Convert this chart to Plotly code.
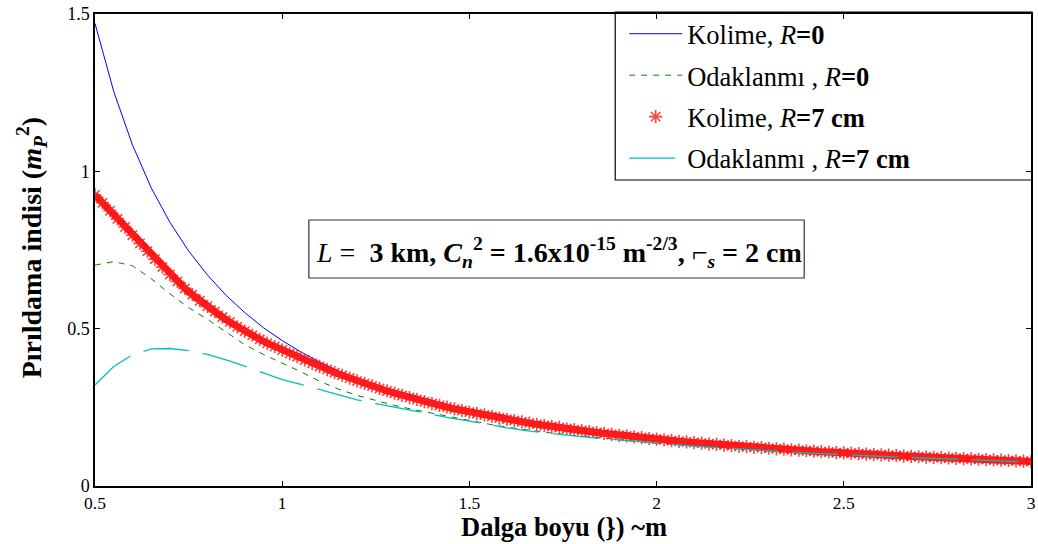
import plotly.graph_objects as go

# Scintillation index vs wavelength for collimated and focused beams
x_line = [0.50, 0.55, 0.60, 0.65, 0.70, 0.75, 0.80, 0.85, 0.90, 0.95,
          1.00, 1.05, 1.10, 1.15, 1.20, 1.25, 1.30, 1.35, 1.40, 1.45,
          1.50, 1.55, 1.60, 1.65, 1.70, 1.75, 1.80, 1.85, 1.90, 1.95,
          2.00, 2.05, 2.10, 2.15, 2.20, 2.25, 2.30, 2.35, 2.40, 2.45,
          2.50, 2.55, 2.60, 2.65, 2.70, 2.75, 2.80, 2.85, 2.90, 2.95, 3.00]

kolime_r0 = [1.470, 1.254, 1.084, 0.948, 0.838, 0.747, 0.671, 0.606, 0.551, 0.503,
             0.462, 0.426, 0.394, 0.366, 0.341, 0.318, 0.298, 0.280, 0.263, 0.248,
             0.235, 0.222, 0.211, 0.200, 0.190, 0.181, 0.173, 0.165, 0.158, 0.151,
             0.146, 0.140, 0.135, 0.130, 0.125, 0.121, 0.117, 0.113, 0.109, 0.106,
             0.102, 0.099, 0.096, 0.093, 0.091, 0.088, 0.086, 0.083, 0.081, 0.079, 0.077]

odak_r0 = [0.702, 0.713, 0.700, 0.659, 0.611, 0.567, 0.530, 0.489, 0.449, 0.418,
           0.391, 0.363, 0.333, 0.308, 0.288, 0.271, 0.256, 0.243, 0.231, 0.219,
           0.208, 0.197, 0.187, 0.178, 0.171, 0.164, 0.158, 0.152, 0.147, 0.141,
           0.136, 0.132, 0.128, 0.124, 0.120, 0.116, 0.113, 0.110, 0.106, 0.103,
           0.100, 0.098, 0.095, 0.093, 0.090, 0.088, 0.086, 0.083, 0.081, 0.079, 0.077]

odak_r7 = [0.321, 0.380, 0.417, 0.436, 0.437, 0.430, 0.418, 0.401, 0.381, 0.359,
           0.338, 0.323, 0.307, 0.289, 0.274, 0.262, 0.250, 0.238, 0.227, 0.216,
           0.206, 0.195, 0.185, 0.176, 0.169, 0.163, 0.157, 0.151, 0.146, 0.140,
           0.136, 0.131, 0.127, 0.123, 0.119, 0.116, 0.112, 0.109, 0.105, 0.102,
           0.099, 0.097, 0.094, 0.092, 0.089, 0.087, 0.085, 0.082, 0.080, 0.078, 0.076]

x_mark = [0.50, 0.52, 0.54, 0.56, 0.58, 0.60, 0.62, 0.64, 0.66, 0.68,
          0.70, 0.72, 0.74, 0.76, 0.78, 0.80, 0.82, 0.84, 0.86, 0.88,
          0.90, 0.92, 0.94, 0.96, 0.98, 1.00, 1.02, 1.04, 1.06, 1.08,
          1.10, 1.12, 1.14, 1.16, 1.18, 1.20, 1.22, 1.24, 1.26, 1.28,
          1.30, 1.32, 1.34, 1.36, 1.38, 1.40, 1.42, 1.44, 1.46, 1.48,
          1.50, 1.52, 1.54, 1.56, 1.58, 1.60, 1.62, 1.64, 1.66, 1.68,
          1.70, 1.72, 1.74, 1.76, 1.78, 1.80, 1.82, 1.84, 1.86, 1.88,
          1.90, 1.92, 1.94, 1.96, 1.98, 2.00, 2.02, 2.04, 2.06, 2.08,
          2.10, 2.12, 2.14, 2.16, 2.18, 2.20, 2.22, 2.24, 2.26, 2.28,
          2.30, 2.32, 2.34, 2.36, 2.38, 2.40, 2.42, 2.44, 2.46, 2.48,
          2.50, 2.52, 2.54, 2.56, 2.58, 2.60, 2.62, 2.64, 2.66, 2.68,
          2.70, 2.72, 2.74, 2.76, 2.78, 2.80, 2.82, 2.84, 2.86, 2.88,
          2.90, 2.92, 2.94, 2.96, 2.98, 3.00]

kolime_r7 = [0.925, 0.900, 0.875, 0.849, 0.823, 0.797, 0.771, 0.746, 0.721, 0.696,
             0.672, 0.650, 0.628, 0.608, 0.589, 0.571, 0.554, 0.537, 0.521, 0.506,
             0.492, 0.479, 0.466, 0.454, 0.443, 0.432, 0.421, 0.411, 0.400, 0.390,
             0.380, 0.370, 0.361, 0.352, 0.343, 0.334, 0.326, 0.318, 0.310, 0.302,
             0.295, 0.288, 0.281, 0.275, 0.268, 0.262, 0.256, 0.251, 0.245, 0.240,
             0.235, 0.230, 0.226, 0.221, 0.216, 0.212, 0.208, 0.204, 0.200, 0.196,
             0.192, 0.189, 0.186, 0.182, 0.179, 0.176, 0.173, 0.170, 0.167, 0.164,
             0.161, 0.159, 0.156, 0.154, 0.151, 0.149, 0.147, 0.144, 0.142, 0.140,
             0.138, 0.136, 0.134, 0.132, 0.130, 0.128, 0.126, 0.125, 0.123, 0.122,
             0.120, 0.118, 0.117, 0.115, 0.114, 0.112, 0.111, 0.109, 0.108, 0.106,
             0.105, 0.104, 0.103, 0.101, 0.100, 0.099, 0.098, 0.097, 0.095, 0.094,
             0.093, 0.092, 0.091, 0.090, 0.089, 0.088, 0.087, 0.086, 0.085, 0.084,
             0.083, 0.082, 0.081, 0.080, 0.079, 0.078]

x_ticks = [0.5, 1, 1.5, 2, 2.5, 3]
x_tick_text = ["0.5", "1", "1.5", "2", "2.5", "3"]
y_ticks = [0, 0.5, 1, 1.5]
y_tick_text = ["0", "0.5", "1", "1.5"]

names = [
    "Kolime, <i>R</i><b>=0</b>",
    "Odaklanmı , <i>R</i><b>=0</b>",
    "Kolime, <i>R</i><b>=7 cm</b>",
    "Odaklanmı , <i>R</i><b>=7 cm</b>",
]

SERIF = "Liberation Serif, Times New Roman, serif"

fig = go.Figure()
fig.add_trace(go.Scatter(x=x_line, y=kolime_r0, mode="lines", name=names[0],
                         legendgroup="a", line=dict(color="#0000FF", width=1)))
fig.add_trace(go.Scatter(x=x_line, y=odak_r0, mode="lines", name=names[1],
                         legendgroup="b",
                         line=dict(color="#008000", width=1, dash="6px,6px")))
# dense star markers form a solid band; a thick underlay fills the gaps
fig.add_trace(go.Scatter(x=x_mark, y=kolime_r7, mode="lines", showlegend=False,
                         legendgroup="c", hoverinfo="skip",
                         line=dict(color="#FF1010", width=7)))
fig.add_trace(go.Scatter(x=x_mark, y=kolime_r7, mode="markers", name=names[2],
                         legendgroup="c",
                         marker=dict(symbol="asterisk", size=11, color="#FF0000",
                                     line=dict(color="rgba(255,30,30,0.85)", width=1.6))))
fig.add_trace(go.Scatter(x=x_line, y=odak_r7, mode="lines", name=names[3],
                         legendgroup="d",
                         line=dict(color="#00BFBF", width=1.3, dash="46px,14px")))

L, T = 95, 14
W, H = 941, 472


def px_x(p):
    return (p - L) / W


def px_y(p):
    return (T + H - p) / H


fig.update_layout(
    width=1038, height=544,
    margin=dict(l=L, r=1038 - L - W, t=T, b=544 - T - H, pad=0),
    paper_bgcolor="white", plot_bgcolor="white",
    font=dict(family=SERIF, size=18, color="black"),
    showlegend=True,
    legend=dict(x=px_x(627), y=px_y(10), xanchor="left", yanchor="top",
                bgcolor="rgba(0,0,0,0)", borderwidth=0,
                font=dict(family=SERIF, size=26.5, color="black"),
                tracegroupgap=4, itemwidth=53),
    xaxis=dict(range=[0.5, 3], tickvals=x_ticks, ticktext=x_tick_text,
               showgrid=False, zeroline=False, showline=True, linecolor="black",
               linewidth=1.5, mirror="ticks", ticks="inside", ticklen=5,
               tickcolor="black", tickfont=dict(size=17.5),
               ticklabeloverflow="allow"),
    yaxis=dict(range=[0, 1.5], tickvals=y_ticks, ticktext=y_tick_text,
               showgrid=False, zeroline=False, showline=True, linecolor="black",
               linewidth=1.5, mirror="ticks", ticks="inside", ticklen=5,
               tickcolor="black", tickfont=dict(size=18),
               ticklabeloverflow="allow"),
    shapes=[
        # legend frame
        dict(type="rect", xref="paper", yref="paper",
             x0=px_x(618), x1=px_x(1037), y0=px_y(180), y1=px_y(12),
             line=dict(color="black", width=1.2), fillcolor="white", layer="below"),
        # parameter box
        dict(type="rect", xref="paper", yref="paper",
             x0=px_x(310), x1=px_x(808), y0=px_y(278), y1=px_y(220),
             line=dict(color="#333333", width=1.2), fillcolor="white", layer="above"),
    ],
    annotations=[
        dict(xref="paper", yref="paper", x=px_x(561), y=px_y(252),
             xanchor="center", yanchor="middle", showarrow=False,
             font=dict(family=SERIF, size=28, color="black"),
             text=("<i>L</i> =  <b>3 km, <i>C</i></b><sub><b><i>n</i></b></sub>"
                   "<sup><b>2</b></sup><b> = 1.6x10</b><sup><b>-15</b></sup>"
                   "<b> m</b><sup><b>-2/3</b></sup><b>, </b>⌐<sub><b><i>s</i></b></sub>"
                   "<b> = 2 cm</b>")),
        dict(xref="paper", yref="paper", x=px_x(567), y=px_y(527),
             xanchor="center", yanchor="middle", showarrow=False,
             font=dict(family=SERIF, size=26.5, color="black"),
             text="<b>Dalga boyu (}) ~m</b>"),
        dict(xref="paper", yref="paper", x=px_x(31), y=px_y(248),
             xanchor="center", yanchor="middle", showarrow=False, textangle=-90,
             font=dict(family=SERIF, size=28, color="black"),
             text="<b>Pırıldama indisi (<i>m</i><sub><i>P</i></sub><sup>2</sup>)</b>"),
    ],
)

fig.write_html("out.html")
